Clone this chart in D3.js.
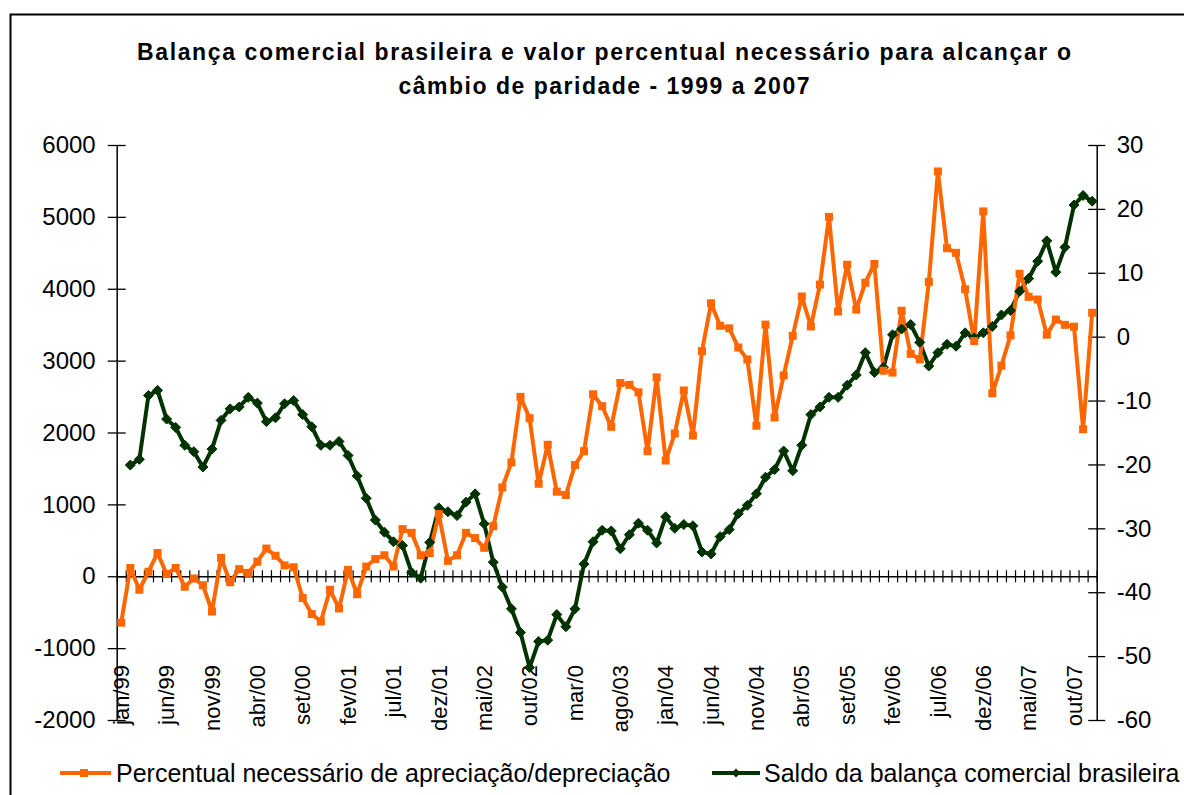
<!DOCTYPE html>
<html><head><meta charset="utf-8">
<script src="https://cdn.jsdelivr.net/npm/d3@7"></script>
<style>body{margin:0;background:#fff} svg{display:block;font-family:"Liberation Sans",Arial,sans-serif}</style>
</head><body><svg id="c" width="1184" height="795"></svg>
<script>
// ---- data ----
const monthNames = ["jan","fev","mar","abr","mai","jun","jul","ago","set","out","nov","dez"];
const years = ["99","00","01","02","03","04","05","06","07"];
const categories = [];
years.forEach(y => monthNames.forEach(m => categories.push(m + "/" + y)));

// tick labels shown every 5 months (as printed in the source)
const tickLabels = ["jan/99","jun/99","nov/99","abr/00","set/00","fev/01","jul/01","dez/01","mai/02","out/02","mar/0","ago/03","jan/04","jun/04","nov/04","abr/05","set/05","fev/06","jul/06","dez/06","mai/07","out/07"];

// orange series (plotted on left axis)
const percentual = [-646,115,-188,63,323,31,115,-146,-31,-125,-490,255,
  -83,99,47,203,385,285,151,125,-302,-526,-630,-188,
  -448,89,-250,135,240,292,135,656,604,292,323,865,
  214,292,604,531,396,698,1235,1584,2496,2199,1287,1829,
  1177,1131,1547,1740,2532,2366,2079,2689,2663,2559,1740,2767,
  1610,1985,2585,1959,3131,3798,3485,3449,3183,3016,2094,3501,
  2209,2793,3345,3892,3475,4058,5000,3683,4334,3709,4084,4345,
  2860,2834,3694,3095,3017,4095,5632,4564,4500,3992,3272,5076,
  2546,2930,3351,4208,3887,3850,3361,3572,3498,3472,2046,3666];

// dark green series (plotted on right axis)
const saldo = [null,-20.1,-19.2,-9.2,-8.4,-12.9,-14.2,-17.0,-18.0,-20.4,-17.6,-13.1,
  -11.3,-11.0,-9.5,-10.4,-13.3,-12.7,-10.5,-10.0,-12.2,-14.1,-17.0,-17.0,
  -16.4,-18.6,-21.8,-25.3,-28.7,-30.6,-32.1,-32.7,-36.9,-37.8,-32.2,-26.8,
  -27.4,-28.0,-25.9,-24.6,-29.3,-35.3,-39.2,-42.6,-46.3,-51.8,-47.7,-47.5,
  -43.5,-45.4,-42.6,-35.6,-32.1,-30.3,-30.4,-33.2,-31.0,-29.2,-30.3,-32.3,
  -28.2,-30.0,-29.4,-29.6,-33.7,-34.0,-31.3,-30.2,-27.7,-26.4,-24.6,-22.0,
  -20.8,-17.9,-21.0,-17.0,-12.2,-11.0,-9.5,-9.5,-7.6,-6.0,-2.5,-5.6,
  -4.8,0.3,1.2,1.9,-0.9,-4.6,-2.5,-1.2,-1.5,0.6,-0.2,0.6,
  1.6,3.4,4.1,7.1,9.1,11.8,15.0,10.1,14.0,20.6,22.1,21.2];

const leftTicks = [-2000,-1000,0,1000,2000,3000,4000,5000,6000];
const rightTicks = [-60,-50,-40,-30,-20,-10,0,10,20,30];

const titleLines = ["Balança comercial brasileira e valor percentual necessário para alcançar o","câmbio de paridade - 1999 a 2007"];
const legendNames = ["Percentual necessário de apreciação/depreciação","Saldo da balança comercial brasileira"];

// ---- drawing ----
const ORANGE = "#FF6600", GREEN = "#003300";
const svg = d3.select("#c");
const x0 = 116.7, x1 = 1096.7, yTop = 145, yBot = 720;

svg.append("rect").attr("x",10.5).attr("y",14.5).attr("width",1200).attr("height",800)
  .attr("fill","#fff").attr("stroke","#000").attr("stroke-width",2);

const xc = d3.scaleBand().domain(categories).range([x0,x1]);
const bw = xc.bandwidth();
const xi = d3.scaleLinear().domain([0,categories.length]).range([x0,x1]);
const yL = d3.scaleLinear().domain([-2000,6000]).range([yBot,yTop]);
const yR = d3.scaleLinear().domain([-60,30]).range([yBot,yTop]);
const cx = c => xc(c) + bw/2;

// title
titleLines.forEach((t,i) => {
  svg.append("text").attr("x",604).attr("y",60 + i*34).attr("text-anchor","middle")
    .attr("font-size",23).attr("font-weight","bold").attr("fill","#000")
    .attr("textLength", i===0 ? 934 : 411).attr("lengthAdjust","spacing").text(t);
});

// left axis
const gL = svg.append("g").attr("transform",`translate(${x0},0)`)
  .call(d3.axisLeft(yL).tickValues(leftTicks).tickSize(9).tickSizeOuter(0).tickPadding(12).tickFormat(d => String(d)));
gL.selectAll(".tick line").attr("x1",9).attr("x2",-9);
// right axis
const gR = svg.append("g").attr("transform",`translate(${x1},0)`)
  .call(d3.axisRight(yR).tickValues(rightTicks).tickSize(8.5).tickSizeOuter(0).tickPadding(11.5).tickFormat(d => String(d)));
gR.selectAll(".tick line").attr("x1",-8.5).attr("x2",8.5);
[gL,gR].forEach(g => {
  g.select(".domain").attr("stroke","#000").attr("stroke-width",1.5);
  g.selectAll(".tick line").attr("stroke","#000").attr("stroke-width",1.3);
  g.selectAll("text").attr("font-size",24).attr("fill","#000").attr("font-family","Liberation Sans, Arial, sans-serif");
});

// category axis at zero
const gB = svg.append("g").attr("transform",`translate(0,${yL(0)})`)
  .call(d3.axisBottom(xi).tickValues(d3.range(0,categories.length+1)).tickSize(6).tickSizeOuter(0).tickFormat(""));
gB.selectAll(".tick line").attr("y1",-6).attr("y2",6).attr("stroke","#000").attr("stroke-width",1.2);
gB.select(".domain").attr("stroke","#000").attr("stroke-width",1.5);

// rotated labels
tickLabels.forEach((t,k) => {
  const c = categories[k*5];
  svg.append("text").attr("transform",`translate(${cx(c)},665) rotate(-90)`)
    .attr("text-anchor","end").attr("dy","0.35em").attr("font-size",22).attr("fill","#000").text(t);
});

// lines
const oData = categories.map((c,i)=>({c, v: percentual[i]}));
const gData = categories.map((c,i)=>({c, v: saldo[i]}));
svg.append("path").datum(gData).attr("fill","none").attr("stroke",GREEN).attr("stroke-width",4).attr("stroke-linejoin","round")
  .attr("d", d3.line().defined(d=>d.v!=null).x(d=>cx(d.c)).y(d=>yR(d.v)));
svg.append("path").datum(oData).attr("fill","none").attr("stroke",ORANGE).attr("stroke-width",4).attr("stroke-linejoin","round")
  .attr("d", d3.line().x(d=>cx(d.c)).y(d=>yL(d.v)));

const diamond = (x,y,r) => `M${x},${y-r}L${x+r},${y}L${x},${y+r}L${x-r},${y}Z`;
svg.append("g").selectAll("path").data(gData.filter(d=>d.v!=null)).join("path")
  .attr("d", d=>diamond(cx(d.c), yR(d.v), 5)).attr("fill",GREEN).attr("stroke",GREEN);
svg.append("g").selectAll("rect").data(oData).join("rect")
  .attr("x",d=>cx(d.c)-4).attr("y",d=>yL(d.v)-4).attr("width",8).attr("height",8).attr("fill",ORANGE);

// legend
const lg = svg.append("g");
lg.append("line").attr("x1",60).attr("x2",111).attr("y1",773).attr("y2",773).attr("stroke",ORANGE).attr("stroke-width",4);
lg.append("rect").attr("x",80).attr("y",769).attr("width",8).attr("height",8).attr("fill",ORANGE);
lg.append("text").attr("x",116).attr("y",782).attr("font-size",25).attr("fill","#000").text(legendNames[0]);
lg.append("line").attr("x1",712).attr("x2",760).attr("y1",773).attr("y2",773).attr("stroke",GREEN).attr("stroke-width",4);
lg.append("path").attr("d",diamond(736,773,4.5)).attr("fill",GREEN);
lg.append("text").attr("x",764).attr("y",782).attr("font-size",25).attr("fill","#000").text(legendNames[1]);
</script></body></html>
